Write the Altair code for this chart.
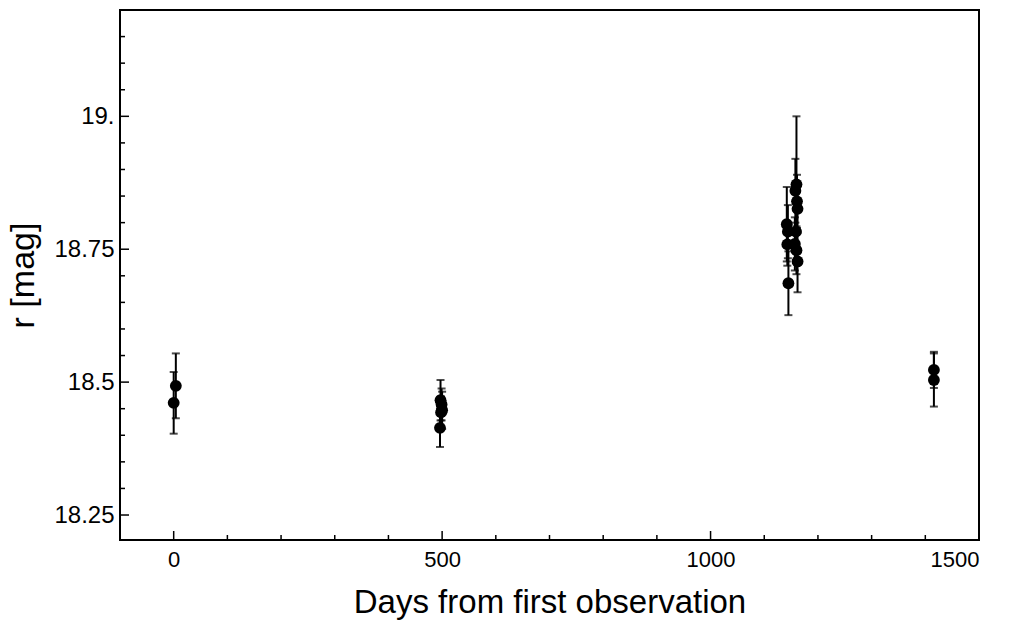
import altair as alt
import pandas as pd

# Observations: days from first observation, r magnitude, 1-sigma error
days = [0, 4,
        497, 499, 500, 498, 496,
        1142, 1144, 1143, 1145,
        1160, 1158, 1161, 1162, 1159, 1160, 1162, 1157,
        1416, 1416]
mag = [18.461, 18.493,
       18.466, 18.458, 18.447, 18.443, 18.414,
       18.797, 18.783, 18.759, 18.686,
       18.872, 18.860, 18.840, 18.826, 18.783, 18.748, 18.727, 18.760,
       18.523, 18.504]
err = [0.058, 0.061,
       0.038, 0.030, 0.035, 0.030, 0.036,
       0.070, 0.050, 0.040, 0.060,
       0.128, 0.060, 0.050, 0.045, 0.040, 0.045, 0.058, 0.050,
       0.034, 0.050]

x_ticks = list(range(-100, 1501, 100))
x_major = [0, 500, 1000, 1500]
y_ticks = [round(18.25 + 0.05 * i, 2) for i in range(19)]
y_major = [18.25, 18.5, 18.75, 19.0]

W, H = 859, 530

df = pd.DataFrame({"days": days, "mag": mag, "err": err})
df["lo"] = df["mag"] - df["err"]
df["hi"] = df["mag"] + df["err"]

xt = pd.DataFrame({"days": x_ticks})
xt["major"] = [v in x_major for v in x_ticks]
yt = pd.DataFrame({"mag": y_ticks})
yt["major"] = [v in y_major for v in y_ticks]

xscale = alt.Scale(domain=[-100, 1500], nice=False, zero=False)
yscale = alt.Scale(domain=[18.203, 19.2], nice=False, zero=False)

xaxis = alt.Axis(values=x_major, ticks=False, domain=False, grid=False, format="d",
                 labelFont="Liberation Sans", labelFontSize=22,
                 labelColor="black", labelPadding=9,
                 title="Days from first observation", titleFont="Liberation Sans",
                 titleFontSize=33, titleFontWeight="normal", titleColor="black",
                 titlePadding=16)
yaxis = alt.Axis(values=y_major, ticks=False, domain=False, grid=False,
                 labelExpr="datum.value == 19 ? '19.' : format(datum.value, '.4~f')",
                 labelFont="Liberation Sans", labelFontSize=24,
                 labelColor="black", labelPadding=6,
                 title="r [mag]", titleFont="Liberation Sans",
                 titleFontSize=34, titleFontWeight="normal", titleColor="black",
                 titlePadding=13)

X = lambda f: alt.X(f, scale=xscale, axis=xaxis)
Y = lambda f: alt.Y(f, scale=yscale, axis=yaxis)

base = alt.Chart(df)

bars = base.mark_rule(color="black", strokeWidth=2).encode(
    x=X("days:Q"), y=Y("lo:Q"), y2="hi:Q",
)
cap_lo = base.mark_tick(color="black", orient="horizontal", size=8, thickness=2).encode(
    x=X("days:Q"), y=Y("lo:Q"),
)
cap_hi = base.mark_tick(color="black", orient="horizontal", size=8, thickness=2).encode(
    x=X("days:Q"), y=Y("hi:Q"),
)
pts = base.mark_circle(color="black", opacity=1, size=140).encode(
    x=X("days:Q"), y=Y("mag:Q"),
)

xmaj = alt.Chart(xt[xt["major"]]).mark_rule(color="black", strokeWidth=1.5).encode(
    x=X("days:Q"), y=alt.value(H), y2=alt.value(H - 9),
)
xmin = alt.Chart(xt[~xt["major"]]).mark_rule(color="black", strokeWidth=1.5).encode(
    x=X("days:Q"), y=alt.value(H), y2=alt.value(H - 5),
)
ymaj = alt.Chart(yt[yt["major"]]).mark_rule(color="black", strokeWidth=1.5).encode(
    y=Y("mag:Q"), x=alt.value(0), x2=alt.value(9),
)
ymin = alt.Chart(yt[~yt["major"]]).mark_rule(color="black", strokeWidth=1.5).encode(
    y=Y("mag:Q"), x=alt.value(0), x2=alt.value(5),
)

chart = alt.layer(bars, cap_lo, cap_hi, pts, xmaj, xmin, ymaj, ymin).properties(
    width=W, height=H,
    padding={"left": 120, "top": 10, "right": 31, "bottom": 80},
    autosize=alt.AutoSizeParams(type="none"),
    background="white",
).configure_view(stroke="black", strokeWidth=2)

chart.save("out.html", embed_options={"renderer": "svg", "actions": False})
